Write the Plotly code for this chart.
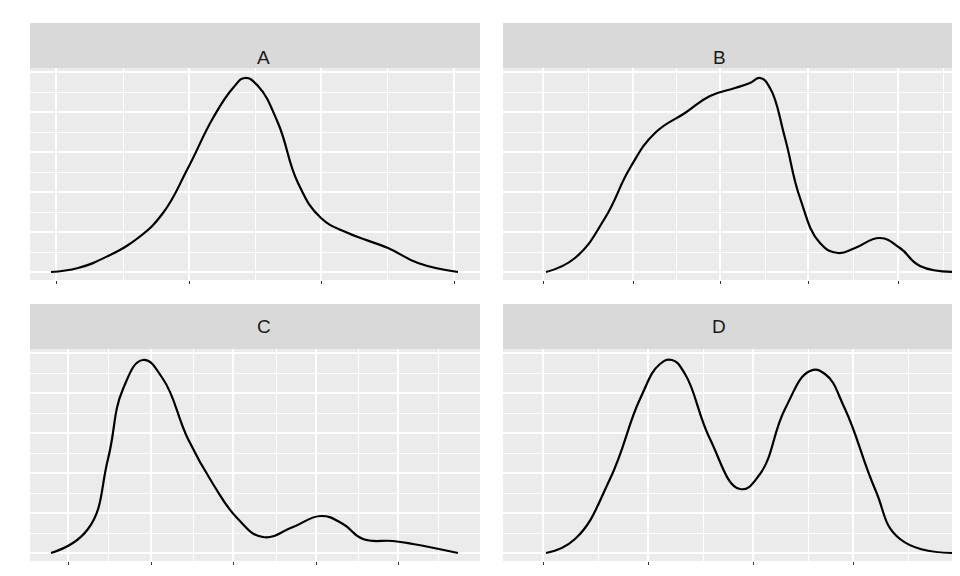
import plotly.graph_objects as go

# density curves (x in panel units, y = density height)
a_x = [21, 48, 78, 108, 133, 158, 183, 203, 215, 228, 248, 268, 291, 318, 358, 388, 428]
a_y = [0, 4, 16, 34, 59, 104, 154, 184, 194, 186, 149, 89, 54, 39, 24, 9, 0]
b_x = [43, 72, 102, 127, 152, 182, 207, 232, 247, 257, 267, 282, 297, 317, 335, 352, 377, 397, 417, 452]
b_y = [0, 14, 54, 104, 139, 159, 176, 184, 189, 194, 184, 134, 74, 29, 19, 24, 34, 24, 6, 0]
c_x = [21, 58, 78, 93, 113, 133, 158, 183, 208, 233, 263, 291, 313, 333, 363, 383, 428]
c_y = [0, 24, 94, 164, 193, 174, 114, 69, 34, 16, 26, 37, 29, 14, 12, 9, 0]
d_x = [43, 72, 107, 137, 157, 169, 182, 207, 237, 257, 282, 307, 322, 342, 372, 397, 452]
d_y = [0, 14, 74, 154, 189, 193, 179, 114, 64, 79, 144, 182, 179, 144, 64, 14, 0]

panels = ["A", "B", "C", "D"]
curves = [(a_x, a_y), (b_x, b_y), (c_x, c_y), (d_x, d_y)]
vgrid = [
    [26, 93, 159, 225, 291, 357, 424],
    [40, 85, 130, 173, 217, 262, 305, 350, 395, 440],
    [38, 78, 121, 163, 203, 246, 286, 328, 368, 408],
    [40, 95, 145, 200, 250, 305, 350, 405],
]

xd = [(22 / 960, 472 / 960), (495 / 960, 945 / 960)] * 2
yd = [(1 - 272 / 576, 1 - 60 / 576)] * 2 + [(1 - 553 / 576, 1 - 341 / 576)] * 2
strip_h = 45 / 576

fig = go.Figure()
shapes, annots = [], []
for i, name in enumerate(panels):
    n = "" if i == 0 else str(i + 1)
    x, y = curves[i]
    fig.add_trace(go.Scatter(x=x, y=y, mode="lines", xaxis="x" + n, yaxis="y" + n,
                             line=dict(color="black", width=2.2, shape="spline", smoothing=1.3),
                             showlegend=False, hoverinfo="skip"))
    g = vgrid[i]
    fig.layout["xaxis" + n] = dict(domain=xd[i], range=[0, 450], anchor="y" + n,
                                   tickvals=g[::2], showticklabels=False, ticks="outside",
                                   ticklen=3, tickcolor="#333333", showgrid=True,
                                   gridcolor="white", gridwidth=2, zeroline=False,
                                   minor=dict(tickvals=g[1::2], showgrid=True,
                                              gridcolor="white", gridwidth=1, ticks=""))
    fig.layout["yaxis" + n] = dict(domain=yd[i], range=[-8, 204], anchor="x" + n,
                                   dtick=40, tick0=0, showticklabels=False, ticks="",
                                   showgrid=True, gridcolor="white", gridwidth=2,
                                   zeroline=False,
                                   minor=dict(dtick=20, showgrid=True,
                                              gridcolor="white", gridwidth=1))
    shapes.append(dict(type="rect", xref="paper", yref="paper", x0=xd[i][0], x1=xd[i][1],
                       y0=yd[i][1], y1=yd[i][1] + strip_h, fillcolor="#D9D9D9",
                       line=dict(width=0), layer="below"))
    annots.append(dict(text=name, xref="paper", yref="paper", showarrow=False,
                       x=(xd[i][0] + xd[i][1]) / 2, y=yd[i][1] + strip_h / 2,
                       font=dict(size=19, color="#1A1A1A")))

fig.update_layout(width=960, height=576, margin=dict(l=0, r=0, t=0, b=0),
                  paper_bgcolor="white", plot_bgcolor="#EBEBEB",
                  font=dict(family="Liberation Sans"),
                  shapes=shapes, annotations=annots)
fig.write_html("out.html")
